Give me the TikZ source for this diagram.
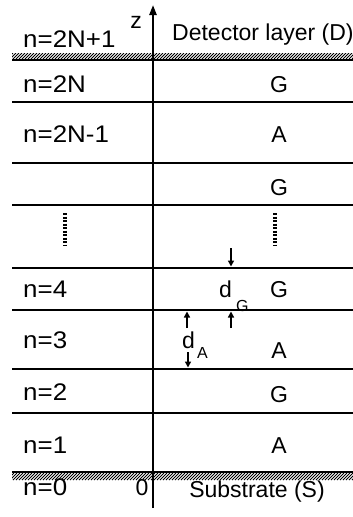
\documentclass[tikz,border=0pt]{standalone}
\usepackage{fontspec}
\setmainfont{Liberation Sans}
\usetikzlibrary{arrows.meta}
\begin{document}
\begin{tikzpicture}[x=1pt,y=-1pt,
  layerline/.style={line width=2.2pt},
  hatchline/.style={line width=0.9pt},
  lbl/.style={inner sep=0pt,font=\fontsize{23}{27}\selectfont},
  sublbl/.style={inner sep=0pt,anchor=base west,font=\fontsize{16}{18}\selectfont},
  leftlbl/.style={inner sep=0pt,anchor=base west,xscale=1.08,font=\fontsize{24}{28}\selectfont},
  midlbl/.style={lbl,anchor=base},
  dotcol/.style={line width=3.2pt,dash pattern=on 2.2pt off 1.3pt},
  thick arrow/.style={line width=1.6pt,-{Triangle[length=6pt,width=6pt]}},
  axis arrow/.style={line width=2.2pt,-{Triangle[length=10pt,width=7pt]}}]
\useasboundingbox (0,0) rectangle (353,517);

% hatched boundaries: detector side (top) and substrate side (bottom)
\begin{scope}
  \clip (12,53) rectangle (353,59);
  \foreach \x in {4,7,...,356} \draw[hatchline] (\x,59) -- (\x+6,53);
\end{scope}
\begin{scope}
  \clip (12,473) rectangle (353,480);
  \foreach \x in {4,7,...,356} \draw[hatchline] (\x,480) -- (\x+7,473);
\end{scope}

% layer interfaces
\foreach \y in {60,102,163,205,268,310,369,413,472}
  \draw[layerline] (12,\y) -- (353,\y);

% z axis
\coordinate (zbot) at (153,508);
\coordinate (ztop) at (153,5);
\draw[axis arrow] (zbot) -- (ztop);
\node[lbl,anchor=base] (zlab) at (136,28) {z};

% left column: layer indices
\node[leftlbl] (n2Np1) at (23,47) {n=2N+1};
\node[leftlbl] (n2N) at (23,92) {n=2N};
\node[leftlbl] (n2Nm1) at (23,142) {n=2N-1};
\node[leftlbl] (n4) at (23,297) {n=4};
\node[leftlbl] (n3) at (23,348) {n=3};
\node[leftlbl] (n2) at (23,400) {n=2};
\node[leftlbl] (n1) at (23,453) {n=1};
\node[leftlbl] (n0) at (23,495) {n=0};
\node[lbl,anchor=base] (zero) at (142,495) {0};

% right column: materials
\node[lbl,anchor=base west] (det) at (172,40) {Detector layer (D)};
\node[midlbl] (m2N) at (279,92) {G};
\node[midlbl] (m2Nm1) at (279,142) {A};
\node[midlbl] (m2Nm2) at (279,195) {G};
\node[midlbl] (m4) at (279,297) {G};
\node[midlbl] (m3) at (279,358) {A};
\node[midlbl] (m2) at (279,402) {G};
\node[midlbl] (m1) at (279,453) {A};
\node[midlbl] (sub) at (257,497) {Substrate (S)};

% continuation dots
\coordinate (dl1) at (65,213); \coordinate (dl2) at (65,245);
\coordinate (dr1) at (275,213); \coordinate (dr2) at (275,245);
\draw[dotcol] (dl1) -- (dl2);
\draw[dotcol] (dr1) -- (dr2);

% thickness markers
\node[lbl,anchor=base west] (dG) at (219,297) {d};
\node[sublbl] (dGs) at (236,311) {G};
\node[lbl,anchor=base west] (dA) at (182,348) {d};
\node[sublbl] (dAs) at (197,358) {A};
\coordinate (gA1) at (231,248); \coordinate (gA2) at (231,266.5);
\coordinate (gB1) at (231,328); \coordinate (gB2) at (231,311.5);
\coordinate (aA1) at (187,328); \coordinate (aA2) at (187,311.5);
\coordinate (aB1) at (188,352); \coordinate (aB2) at (188,367.5);
\draw[thick arrow] (gA1) -- (gA2);
\draw[thick arrow] (gB1) -- (gB2);
\draw[thick arrow] (aA1) -- (aA2);
\draw[thick arrow] (aB1) -- (aB2);
\end{tikzpicture}
\end{document}
